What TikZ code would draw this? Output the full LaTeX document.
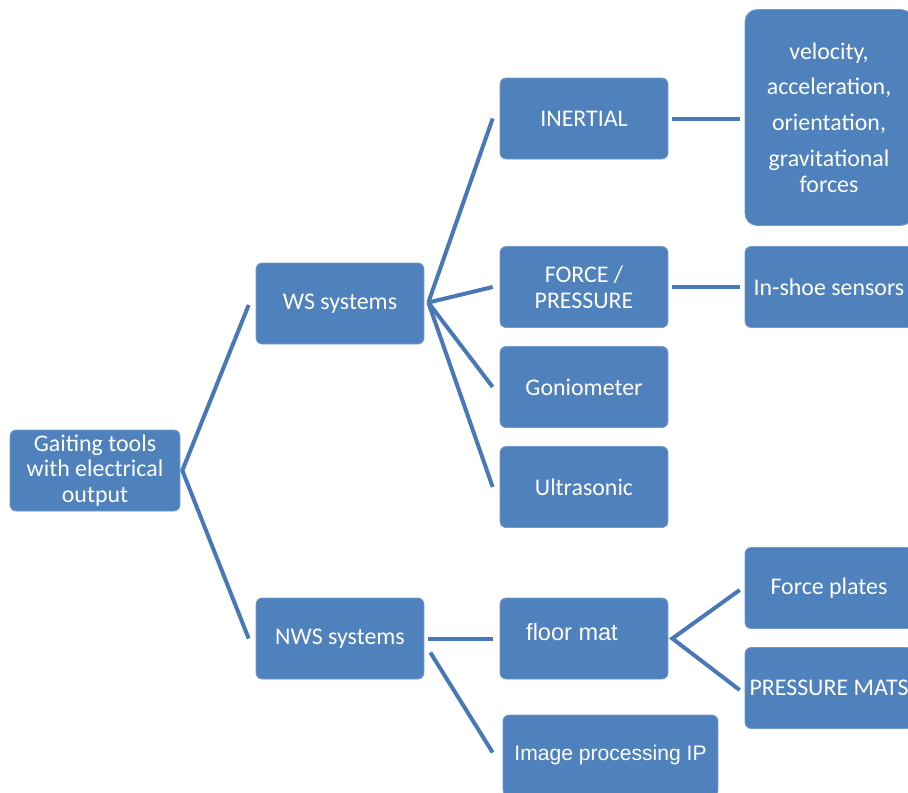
\documentclass[tikz,border=0pt]{standalone}
\usepackage{fontspec}
\setmainfont{Carlito}
\newfontfamily\arialfont{Liberation Sans}
\usetikzlibrary{calc}
\definecolor{boxblue}{RGB}{79,129,189}
\definecolor{lineblue}{RGB}{72,121,182}
\tikzset{
  every node/.style={font=\fontsize{13.6}{14.7}\selectfont},
  tool/.style={
    rectangle,
    draw=boxblue!80!white,
    line width=0.4pt,
    fill=boxblue,
    text=white,
    rounded corners=0.12cm,
    minimum width=3.36cm,
    minimum height=1.62cm,
    align=center,
    inner sep=0pt
  },
  arialtext/.style={font=\arialfont\fontsize{12}{14}\selectfont},
  branch/.style={draw=lineblue,line width=0.08cm}
}

\begin{document}
\begin{tikzpicture}[x=0.02cm,y=-0.02cm]
  \useasboundingbox (0,0) rectangle (908,792);
  \clip (0,0) rectangle (908,792);

  % Racine et deux familles de systemes.
  \node[tool,minimum width=3.4cm] (gaiting) at (95,470.5)
    {Gaiting tools\\with electrical\\output};
  \node[tool] (ws) at (340,303.5) {WS systems};
  \node[tool] (nws) at (340,638.5) {NWS systems};

  % Capteurs portes.
  \node[tool] (inertial) at (584,118.5) {INERTIAL};
  \node[tool] (force) at (584,287) {FORCE /\\PRESSURE};
  \node[tool] (gonio) at (584,387) {Goniometer};
  \node[tool] (ultra) at (584,487) {Ultrasonic};

  % Capteurs non portes.
  \node[tool] (floormat) at (584,638.5) {};
  \node[arialtext,font=\arialfont\fontsize{13.4}{15}\selectfont,text=white]
    (floormat-text) at (572,632) {floor mat};
  \node[tool,arialtext,minimum width=4.3cm] (imageproc) at (610.5,755.5)
    {Image processing IP};

  % Grandeurs mesurees (coupees par le bord droit).
  \node[tool,minimum height=4.32cm,rounded corners=0.24cm] (kinematics) at (829,117.5)
    {velocity,\\[0.2cm]acceleration,\\[0.2cm]orientation,\\[0.2cm]gravitational\\forces};
  \node[tool] (inshoe) at (829,287) {In-shoe sensors};
  \node[tool] (plates) at (829,588) {Force plates};
  \node[tool] (mats) at (829,688) {PRESSURE MATS};

  % Branches.
  \coordinate (gaiting-fork) at ($(gaiting.east)+(2,0)$);
  \draw[branch] ($(ws.west)+(-7,1.5)$) -- (gaiting-fork) -- ($(nws.west)+(-7,0)$);

  \coordinate (ws-fork) at ($(ws.east)+(4,-1)$);
  \foreach \leaf in {inertial,force,gonio,ultra}
    \draw[branch] (ws-fork) -- ($(\leaf.west)+(-7,0)$);

  \draw[branch] ($(inertial.east)+(4,0)$) -- ($(kinematics.west)+(-5,1)$);
  \draw[branch] ($(force.east)+(4,0)$) -- ($(inshoe.west)+(-5,0)$);

  \draw[branch] ($(nws.east)+(4,0)$) -- ($(floormat.west)+(-7,0)$);
  \draw[branch] ($(nws.east)+(6,14)$) -- ($(imageproc.west)+(-10,-3)$);

  \coordinate (floor-fork) at ($(floormat.east)+(4,0)$);
  \draw[branch] ($(plates.west)+(-5,2)$) -- (floor-fork) -- ($(mats.west)+(-5,2)$);
\end{tikzpicture}
\end{document}
